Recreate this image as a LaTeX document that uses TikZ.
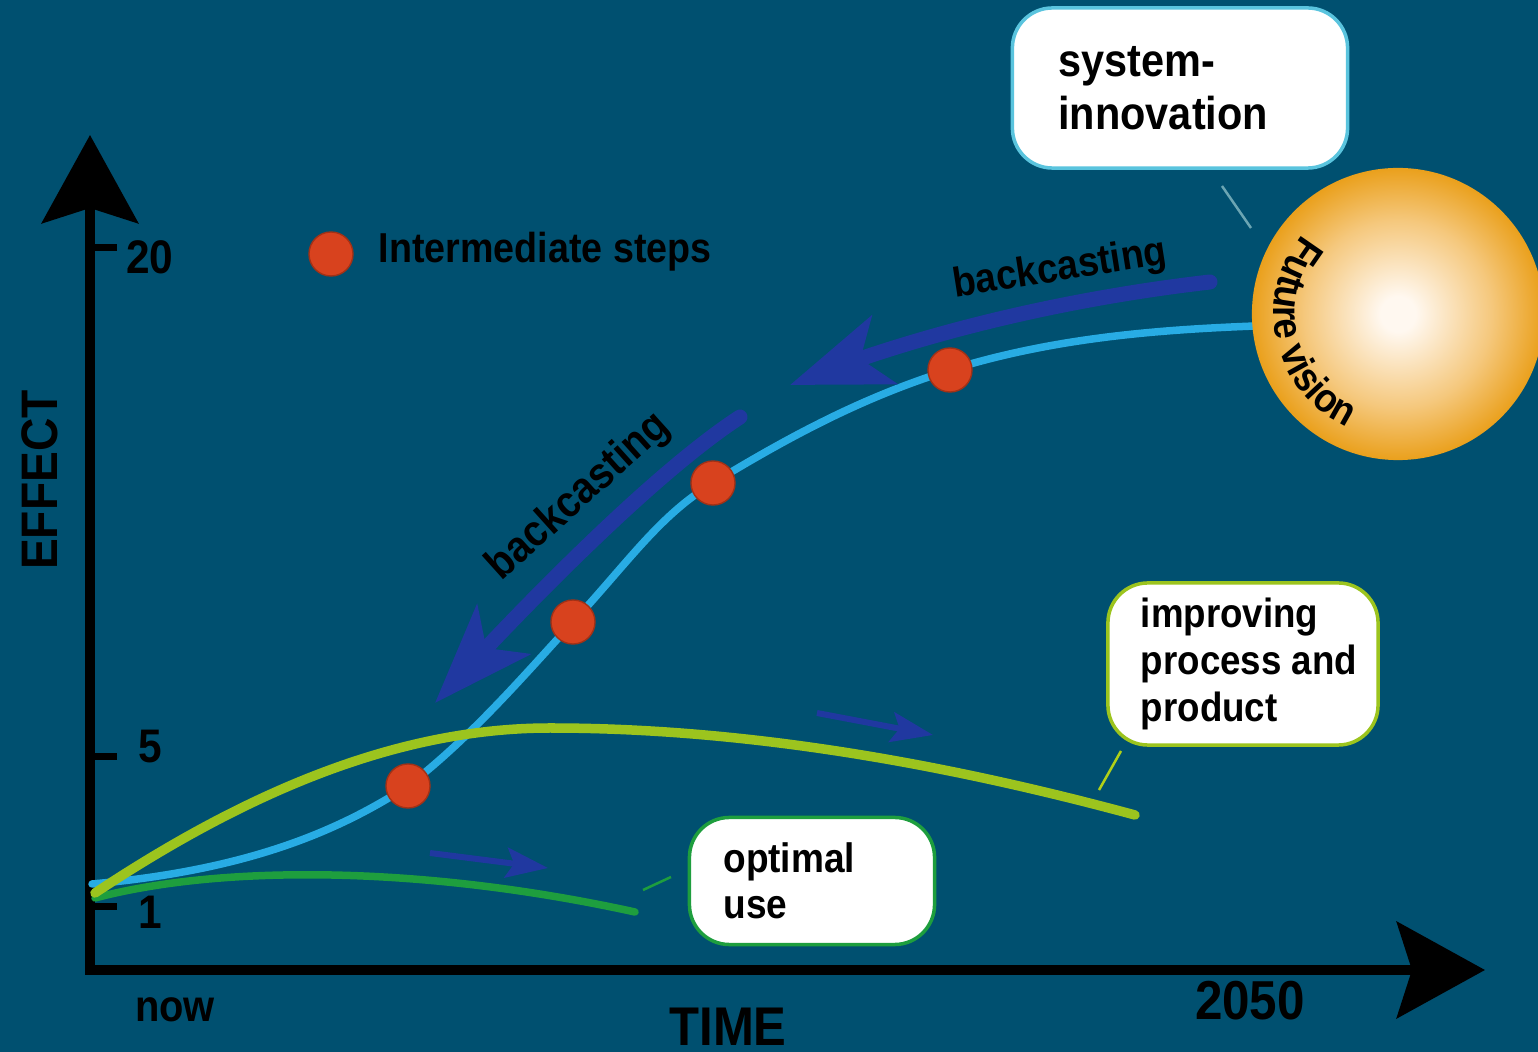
\documentclass[tikz,border=0pt]{standalone}
\usepackage{fontspec}
\setmainfont{Liberation Sans}[FakeStretch=0.9]
\usetikzlibrary{positioning}
\usetikzlibrary{arrows.meta,bending}
\usetikzlibrary{decorations.text}

\definecolor{bgteal}{RGB}{0,80,112}
\definecolor{pathblue}{RGB}{40,172,228}
\definecolor{improvegreen}{RGB}{156,196,30}
\definecolor{optgreen}{RGB}{30,158,62}
\definecolor{backblue}{RGB}{32,56,160}
\definecolor{stepred}{RGB}{216,66,30}
\definecolor{sysborder}{RGB}{90,196,222}
\definecolor{fvorange}{RGB}{234,160,28}
\definecolor{fvmid}{RGB}{245,200,125}
\definecolor{fvlight}{RGB}{255,248,240}
\pgfdeclareradialshading{futureball}{\pgfpoint{0bp}{0bp}}{color(0bp)=(fvlight); color(3bp)=(fvlight); color(16bp)=(fvmid); color(25bp)=(fvorange); color(50bp)=(fvorange)}

\begin{document}
\begin{tikzpicture}[x=0.01cm,y=0.01cm]
\newcommand{\DotSize}{0.44cm}
\newcommand{\CurveWidth}{0.075cm}
\newcommand{\fvfont}{\bfseries\fontsize{11.5}{11.5}\selectfont}
\tikzset{
  axisline/.style={line width=0.1cm, line join=miter,
    {Stealth[length=0.88cm,width=0.96cm,inset=0.15cm]}-{Stealth[length=0.88cm,width=0.96cm,inset=0.15cm]}},
  tickmark/.style={line width=0.07cm},
  axislabel/.style={font=\bfseries\fontsize{#1}{#1}\selectfont, inner sep=0},
  boxtext/.style args={#1/#2}{font=\bfseries\fontsize{#1}{#2}\selectfont, align=left, inner sep=0},
  curve/.style={line width=\CurveWidth, line cap=round},
  stepdot/.style={circle, fill=stepred, draw=stepred!75!black, line width=0.4pt, minimum size=\DotSize, inner sep=0},
  callout/.style={rounded corners=0.4cm, fill=white, line width=0.035cm},
  pointer/.style={line width=0.025cm},
  backarrow/.style={draw=backblue, line width=0.15cm, line cap=round,
    -{Stealth[length=1cm,width=0.72cm,inset=0.25cm]}},
  fwdarrow/.style={draw=backblue, line width=0.06cm,
    -{Stealth[length=0.42cm,width=0.3cm,inset=0.08cm]}}
}
\path[use as bounding box, fill=bgteal] (0,0) rectangle (1538,-1052);

\coordinate (O) at (90,-970);
\coordinate (Ytip) at (90,-135);
\coordinate (Xtip) at (1485,-970);

\draw[axisline] (Ytip) -- (O) -- (Xtip);% axes
\foreach \ty/\ly/\val in {248/257/20, 757/747/5, 907/912/1}{
  \draw[tickmark] (90,-\ty) -- (117,-\ty);
  \node[axislabel=13.4] (tick\val) at (150,-\ly) {\val};
}
\node[axislabel=14.6, rotate=90] (effect) at (40,-480) {EFFECT};
\node[axislabel=12.6, anchor=base] (now) at (175,-1022) {now};
\node[axislabel=15.5, anchor=base] (time) at (728,-1046) {TIME};
\node[axislabel=15.6, anchor=base] (year) at (1250,-1020) {2050};

% callout boxes
\node[callout, draw=sysborder, minimum width=3.35cm, minimum height=1.6cm] (sysbox) at (1180,-88) {};
\node[boxtext=13.1/15.1, right=0.47cm of sysbox.west] (systext) {system-\\innovation};
\node[callout, draw=improvegreen, minimum width=2.7cm, minimum height=1.62cm] (impbox) at (1243,-664) {};
\node[boxtext=11.6/13.3, right=0.34cm of impbox.west] (imptext) {improving\\process and\\product};
\node[callout, draw=optgreen, minimum width=2.45cm, minimum height=1.27cm] (optbox) at (812,-881) {};
\node[boxtext=11.7/13.1, right=0.35cm of optbox.west] (opttext) {optimal\\use};

\coordinate (sysptA) at (1222,-186);
\coordinate (sysptB) at (1251,-228);
\coordinate (impptA) at (1121,-751);
\coordinate (impptB) at (1099,-790);
\coordinate (optptA) at (643,-890);
\coordinate (optptB) at (671,-877);
\draw[pointer, draw=sysborder!55!gray] (sysptA) -- (sysptB);
\draw[pointer, draw=improvegreen!80!yellow] (impptA) -- (impptB);
\draw[pointer, draw=optgreen] (optptA) -- (optptB);

% curves
\coordinate (start) at (92,-884);
\draw[curve, optgreen] (95,-898) .. controls (220,-865) and (420,-865) .. (635,-912);% optimal use
\draw[curve, pathblue] (start) .. controls (250,-870) and (340,-830) .. (408,-786)
  .. controls (470,-738) and (520,-680) .. (573,-622)
  .. controls (630,-560) and (660,-515) .. (713,-483)
  .. controls (800,-430) and (870,-395) .. (950,-370)
  .. controls (1050,-339) and (1150,-330) .. (1255,-326);% system innovation path
\draw[curve, improvegreen, line width=0.095cm] (95,-893) .. controls (250,-790) and (400,-728) .. (550,-728)
  .. controls (750,-728) and (950,-765) .. (1135,-815);% improving process and product

% future vision
\node[circle, inner sep=0, minimum size=2.92cm, shade, shading=futureball] (fv) at (1398,-314) {};
\path[decorate, decoration={text along path, text={|\fvfont|Future vision}, text align=center}]
  (fv.center) ++(136:1.24cm) arc[start angle=136, end angle=250, radius=1.24cm];

% backcasting
\coordinate (bcAstart) at (1210,-282);
\coordinate (bcAend) at (790,-385);
\draw[backarrow] (bcAstart) .. controls (1071,-298) and (920,-332) .. (bcAend);
\node[axislabel=11.8, rotate=9] (bcAtext) at (1060,-270) {backcasting};
\coordinate (bcBstart) at (740,-417);
\coordinate (bcBend) at (435,-703);
\draw[backarrow] (bcBstart) .. controls (648,-477) and (509,-622) .. (bcBend);
\node[axislabel=12.5, rotate=42] (bcBtext) at (579,-497) {backcasting};

\coordinate (fwdAs) at (430,-853);
\coordinate (fwdAe) at (548,-868);
\coordinate (fwdBs) at (817,-713);
\coordinate (fwdBe) at (933,-735);
\draw[fwdarrow] (fwdAs) -- (fwdAe);
\draw[fwdarrow] (fwdBs) -- (fwdBe);

% intermediate steps
\node[stepdot] (step1) at (408,-786) {};
\node[stepdot] (step2) at (573,-622) {};
\node[stepdot] (step3) at (713,-483) {};
\node[stepdot] (step4) at (950,-370) {};
\node[stepdot] (legdot) at (331,-254) {};
\node[axislabel=11.9, anchor=base west] (legtext) at (378,-263) {Intermediate steps};
\end{tikzpicture}
\end{document}
